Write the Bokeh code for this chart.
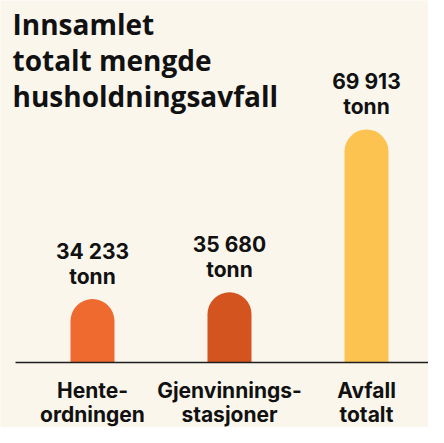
from bokeh.plotting import figure
from bokeh.models import Range1d, Label, LabelSet, ColumnDataSource
from bokeh.core.properties import value
from bokeh.embed import file_html
from bokeh.resources import INLINE

# ---- data ----
categories = ["Hente-\nordningen", "Gjenvinnings-\nstasjoner", "Avfall\ntotalt"]
values = [34233, 35680, 69913]
value_labels = ["34 233", "35 680", "69 913"]
unit = "tonn"
colors = ["#EE6A2F", "#D4541F", "#FDC351"]
title_lines = ["Innsamlet", "totalt mengde", "husholdningsavfall"]

# ---- style ----
BG = "#FAF6EC"
FONT = "Inter"
TITLE_FONT = "Open Sans"
BASE = 20900            # value-axis start (the baseline)
UNITS_PER_PX = 210.3
W, H = 428, 427
X_START, X_END = -0.6715, 2.4526
Y_START = BASE - 65 * UNITS_PER_PX
Y_END = Y_START + H * UNITS_PER_PX

xs = list(range(len(values)))
line1 = [c.split("\n")[0] for c in categories]
line2 = [c.split("\n")[1] for c in categories]

src = ColumnDataSource(dict(x=xs, v=values, num=value_labels,
                            unit=[unit] * len(values), c=colors,
                            l1=line1, l2=line2, base=[BASE] * len(values)))

p = figure(width=W, height=H, x_range=Range1d(X_START, X_END),
           y_range=Range1d(Y_START, Y_END), output_backend="svg",
           toolbar_location=None, min_border=0)
p.axis.visible = False
p.grid.visible = False
p.outline_line_color = None
p.background_fill_color = BG
p.border_fill_color = BG

p.vbar(x="x", width=0.3212, bottom=BASE, top="v", fill_color="c",
       line_color=None, source=src, border_radius=(22, 22, 0, 0))

# baseline
p.segment(x0=X_START + 15 / 137, x1=X_END, y0=BASE, y1=BASE,
          line_color="#1E1E1E", line_width=1.6)

common = dict(text_font=value(FONT), text_align="center",
              text_baseline="alphabetic", text_color="#111111",
              text_font_style="bold")

p.add_layout(LabelSet(x="x", y="v", text="num", y_offset=40, source=src,
                      text_font_size="21px", **common))
p.add_layout(LabelSet(x="x", y="v", text="unit", y_offset=15, source=src,
                      text_font_size="21px", **common))

p.add_layout(LabelSet(x="x", y="base", text="l1", y_offset=-35, source=src,
                      text_font_size="21px", **common))
p.add_layout(LabelSet(x="x", y="base", text="l2", y_offset=-59, source=src,
                      text_font_size="21px", **common))

for i, t in enumerate(title_lines):
    p.add_layout(Label(x=X_START, y=Y_END, x_offset=12, y_offset=-23 - 36 * i,
                       text=t, text_font=TITLE_FONT, text_font_size="28px",
                       text_font_style="bold", text_color="#111111",
                       text_baseline="alphabetic", text_align="left"))

open("out.html", "w").write(file_html(p, INLINE))
